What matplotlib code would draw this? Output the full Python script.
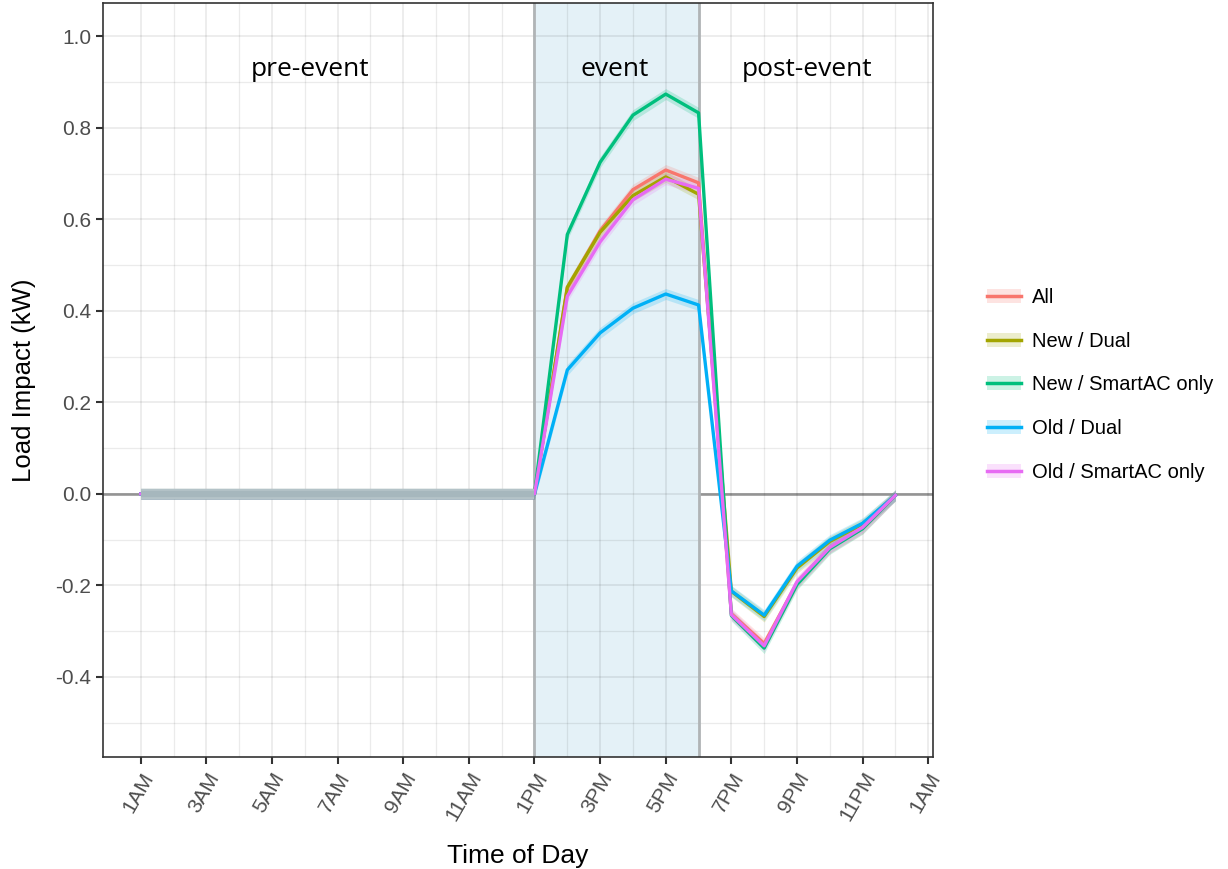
import matplotlib
matplotlib.use('Agg')
import matplotlib.pyplot as plt
from matplotlib.lines import Line2D
from matplotlib.patches import Patch
import numpy as np

# data: load impact by hour of day (1 = 1AM ... 24 = midnight)
hours = list(range(1, 25))
pre = [0.0] * 13
all_grp = pre + [0.450, 0.575, 0.665, 0.708, 0.680, -0.262, -0.327, -0.195, -0.118, -0.075, -0.003]
new_dual = pre + [0.452, 0.572, 0.652, 0.693, 0.655, -0.213, -0.268, -0.162, -0.104, -0.066, -0.003]
new_smart = pre + [0.567, 0.725, 0.828, 0.874, 0.833, -0.266, -0.337, -0.198, -0.120, -0.076, -0.003]
old_dual = pre + [0.271, 0.352, 0.406, 0.437, 0.413, -0.212, -0.265, -0.158, -0.101, -0.064, -0.003]
old_smart = pre + [0.432, 0.551, 0.643, 0.688, 0.668, -0.264, -0.332, -0.192, -0.117, -0.073, -0.003]
ci_half = 0.012

series_names = ['All', 'New / Dual', 'New / SmartAC only', 'Old / Dual', 'Old / SmartAC only']
series_vals = [all_grp, new_dual, new_smart, old_dual, old_smart]
colors = ['#F8766D', '#A3A500', '#00BF7D', '#00B0F6', '#E76BF3']

event_start, event_end = 13, 18
tick_hours = list(range(1, 26, 2))
tick_labels = ['1AM', '3AM', '5AM', '7AM', '9AM', '11AM', '1PM', '3PM', '5PM', '7PM', '9PM', '11PM', '1AM']
period_labels = ['pre-event', 'event', 'post-event']
period_x = [6.15, 15.45, 21.3]

plt.rcParams['font.family'] = ['Liberation Sans', 'DejaVu Sans']

fig = plt.figure(figsize=(12.28, 8.69), dpi=100)
ax = fig.add_axes([0.0839, 0.1289, 0.676, 0.8676])

ax.set_xlim(hours[0] - 0.05 * (hours[-1] - hours[0]), hours[-1] + 0.05 * (hours[-1] - hours[0]))
ax.set_ylim(-0.575, 1.073)

ax.set_xticks(tick_hours)
ax.set_xticks(range(2, 25, 2), minor=True)
ax.set_yticks(np.arange(-0.4, 1.01, 0.2))
ax.set_yticks(np.arange(-0.5, 1.0, 0.2), minor=True)
ax.set_yticklabels(['-0.4', '-0.2', '0.0', '0.2', '0.4', '0.6', '0.8', '1.0'])
ax.set_xticklabels(tick_labels, rotation=60, ha='right', rotation_mode='anchor')
ax.tick_params(which='major', length=5, width=1.5, color='#333333', labelcolor='#4d4d4d', labelsize=15)
ax.tick_params(which='minor', length=0)

# grid (semi-transparent so it shows through the event band)
ax.set_axisbelow(True)
ax.grid(which='major', color='black', alpha=0.08, lw=1.3)
ax.grid(which='minor', color='black', alpha=0.08, lw=0.9)

ax.axhline(0, color='#a0a0a0', lw=2, zorder=0.3)
ax.axvspan(event_start, event_end, color='#e4f1f7', zorder=0.4, lw=0)
for xv in (event_start, event_end):
    ax.axvline(xv, color='#b0b4b6', lw=2, zorder=1)

x = np.array(hours)
for name, vals, c in zip(series_names, series_vals, colors):
    v = np.array(vals)
    ax.fill_between(x, v - ci_half, v + ci_half, color=c, alpha=0.2, lw=0, zorder=2)
for name, vals, c in zip(series_names, series_vals, colors):
    ax.plot(x, vals, color=c, lw=2.4, zorder=3)

# overlapping lines before the event look grey
pre_x = [h for h in hours if h <= event_start]
ax.plot(pre_x, pre, color='#b4c3c8', lw=7.5, zorder=4, solid_capstyle='butt')
ax.plot(pre_x, pre, color='#a6b7bd', lw=4.5, zorder=4, solid_capstyle='butt')

for lbl, px in zip(period_labels, period_x):
    ax.text(px, 0.927, lbl, ha='center', va='center', fontsize=19, family=['Open Sans', 'DejaVu Sans'])

for s in ax.spines.values():
    s.set_color('#333333')
    s.set_linewidth(1.2)

ax.set_xlabel('Time of Day', fontsize=19, labelpad=14)
ax.set_ylabel('Load Impact (kW)', fontsize=18.5, labelpad=14)

handles = [(Patch(color=c, alpha=0.2, lw=0), Line2D([], [], color=c, lw=2.5)) for c in colors]
fig.legend(handles, series_names, loc='center left', bbox_to_anchor=(0.789, 0.557),
           frameon=False, fontsize=14.5, handlelength=1.7, labelspacing=1.22, handletextpad=0.55)

fig.savefig('out.png', dpi=100)
